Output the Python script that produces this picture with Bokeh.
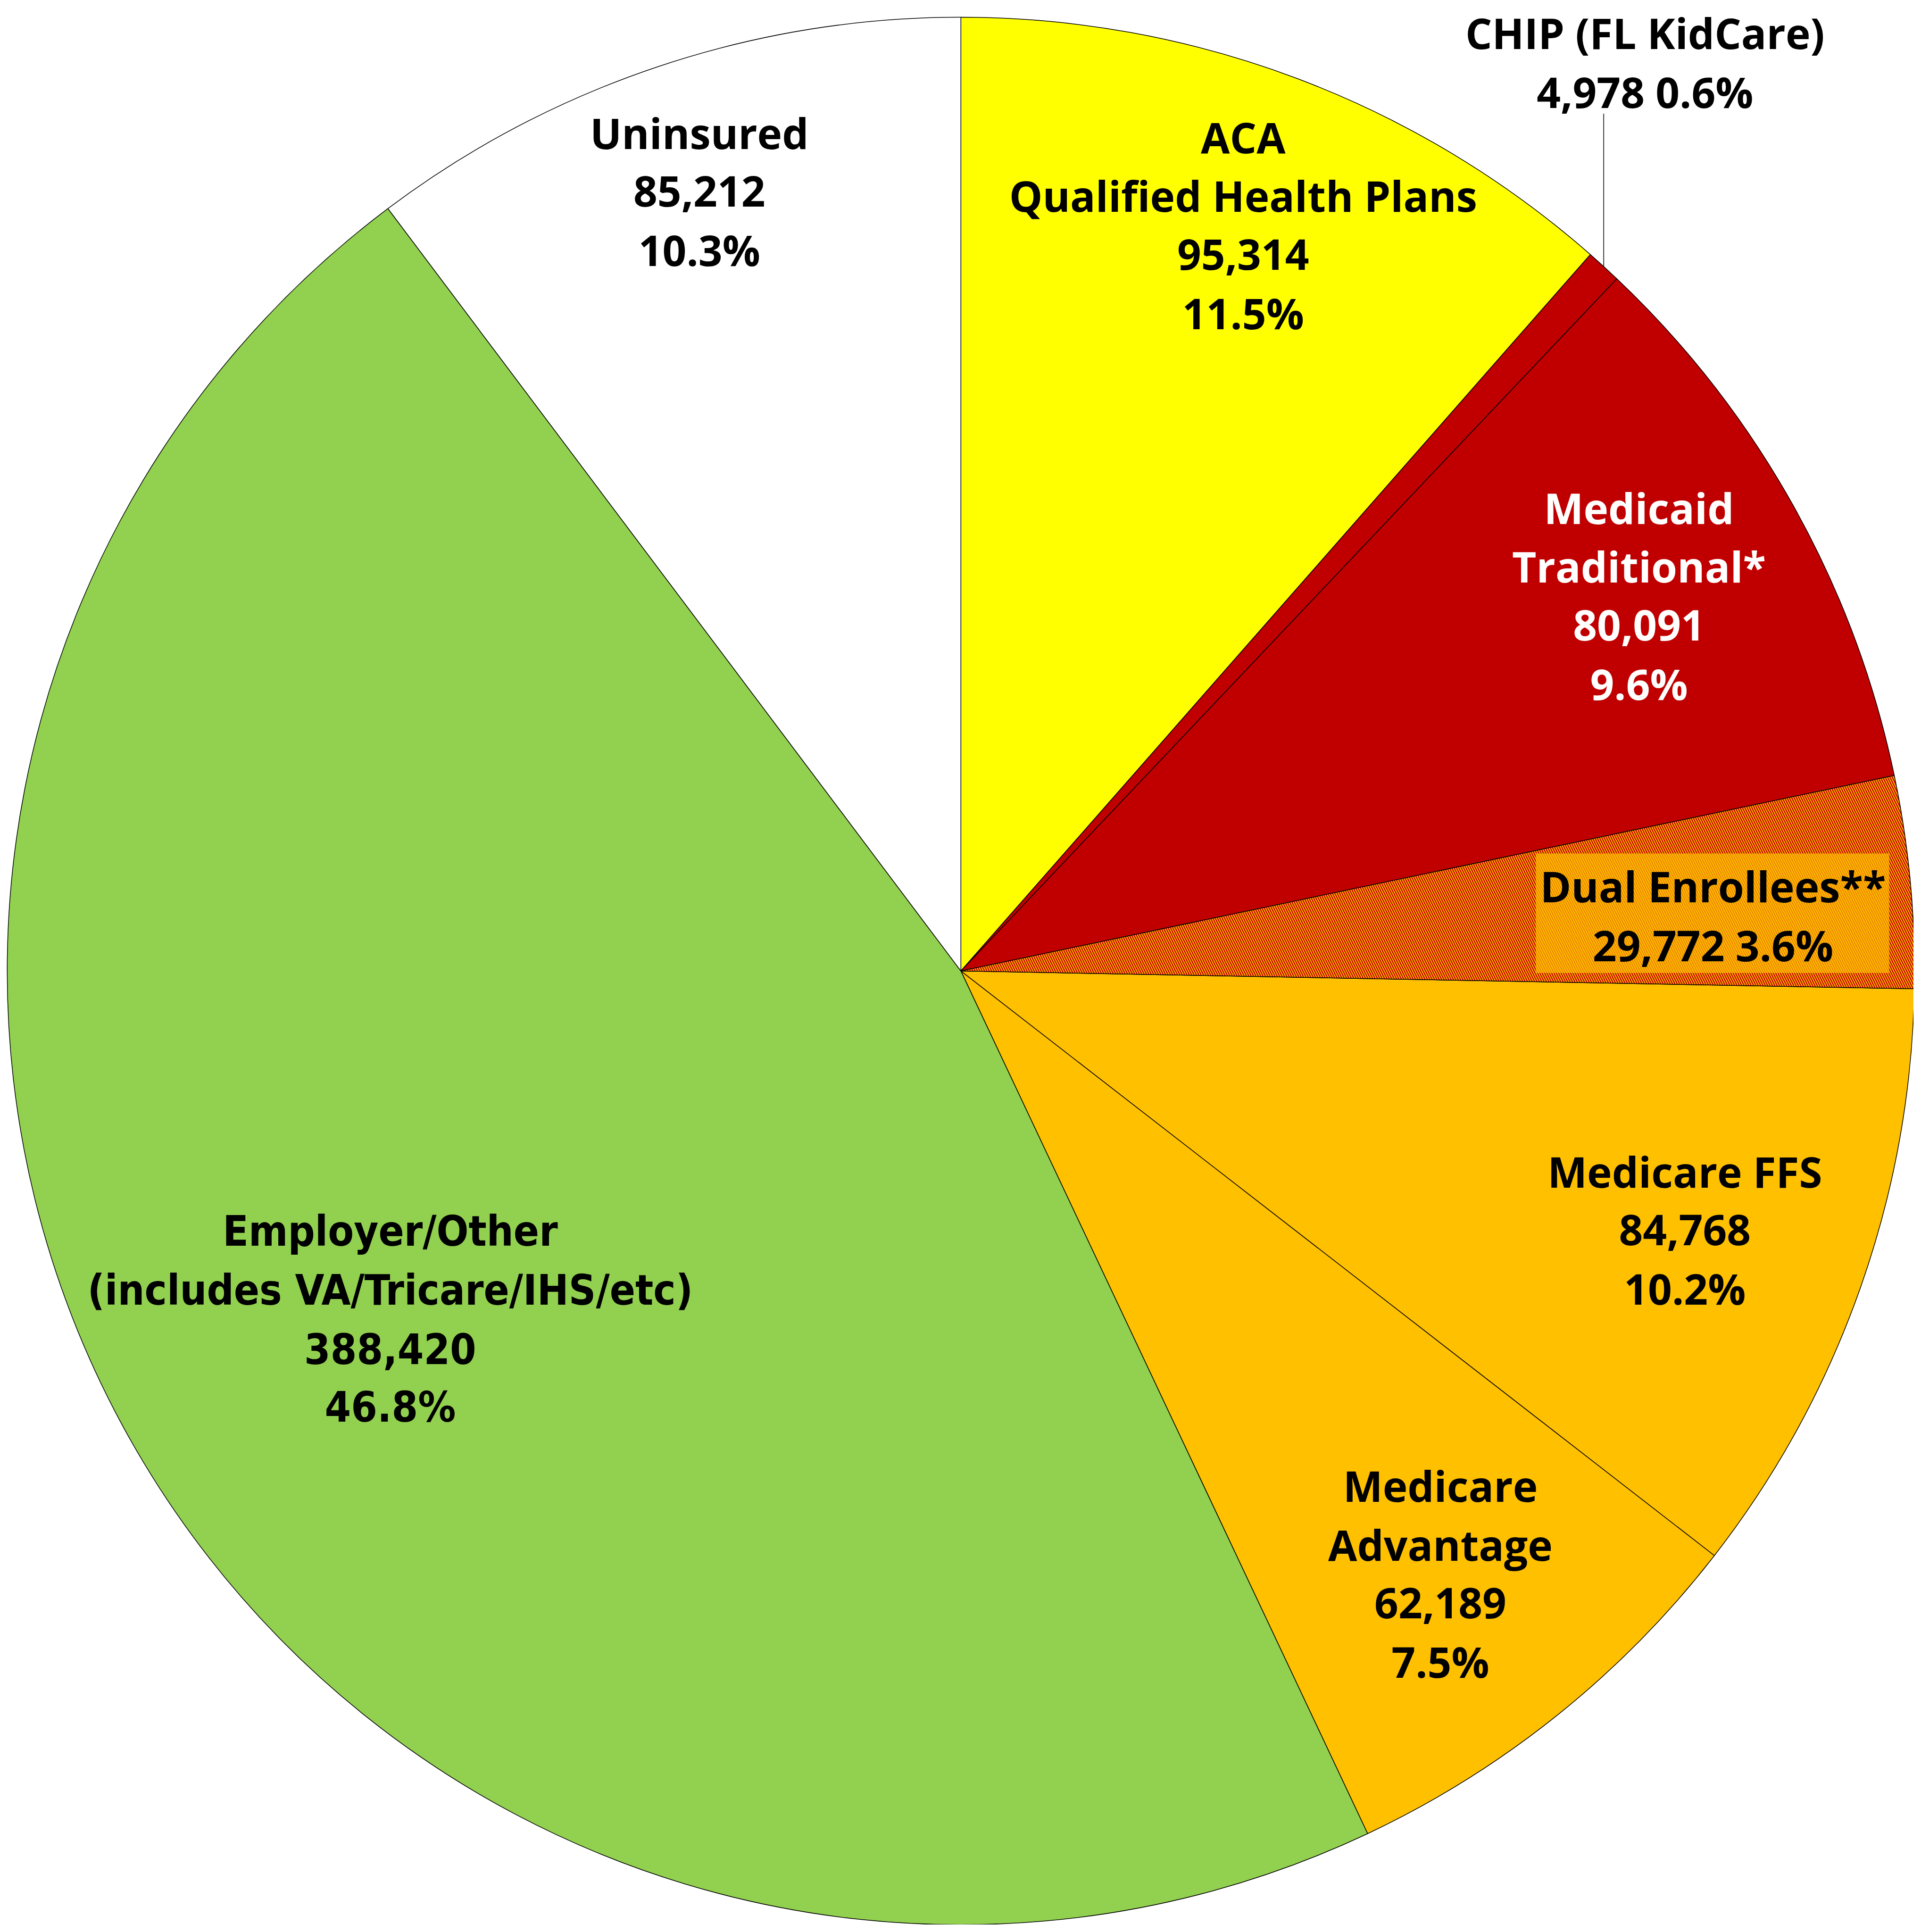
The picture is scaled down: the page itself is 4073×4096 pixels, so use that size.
import numpy as np
from bokeh.plotting import figure
from bokeh.models import ColumnDataSource
from bokeh.embed import file_html
from bokeh.resources import INLINE
from bokeh.core.properties import value

# ---------------- data ----------------
categories = ["ACA Qualified Health Plans", "CHIP (FL KidCare)", "Medicaid Traditional*",
              "Dual Enrollees**", "Medicare FFS", "Medicare Advantage",
              "Employer/Other", "Uninsured"]
label_names = ["ACA\nQualified Health Plans", "CHIP (FL KidCare)", "Medicaid\nTraditional*",
               "Dual Enrollees**", "Medicare FFS", "Medicare\nAdvantage",
               "Employer/Other\n(includes VA/Tricare/IHS/etc)", "Uninsured"]
enrollment = [95314, 4978, 80091, 29772, 84768, 62189, 388420, 85212]
percent_labels = ["11.5%", "0.6%", "9.6%", "3.6%", "10.2%", "7.5%", "46.8%", "10.3%"]

# ---------------- styles / layout ----------------
colors = ["#FFFF00", "#C00000", "#C00000", "#FFC000", "#FFC000", "#FFC000", "#92D050", "#FFFFFF"]
text_colors = ["black", "black", "white", "black", "black", "black", "black", "black"]
one_line_value = [False, True, False, True, False, False, False, False]
condensed = [False, False, False, False, False, False, True, False]
# label anchor (centre x, first baseline y) in reference pixels
label_pos = [(3723, 451), (4923, 140), (4905, 1558), (5126, 2688),
             (5042, 3539), (4312, 4478), (1176, 3718), (2099, 438)]
LINE_STEP = 175  # reference px
BASELINE_FIX = 22  # output px upward correction for renderer baseline

W, H = 4057, 4080
S = 0.710
def tx(X):
    return X * S - 8
def ty(Y):
    return H - (Y * S - 8)

CX, CY, R = tx(2880), ty(2910), 2022.0

p = figure(width=W, height=H, x_range=(0, W), y_range=(0, H),
           output_backend="svg", toolbar_location=None,
           x_axis_location=None, y_axis_location=None,
           min_border=0, tools="")
p.grid.visible = False
p.outline_line_color = None
p.background_fill_color = "white"
p.border_fill_color = "white"

vals = np.array(enrollment, dtype=float)
frac = vals / vals.sum()
cum = np.concatenate([[0.0], np.cumsum(frac)])
start = np.pi / 2 - cum[:-1] * 2 * np.pi
end = np.pi / 2 - cum[1:] * 2 * np.pi

plain = [i for i in range(len(vals)) if i != 3]
src = ColumnDataSource(dict(
    x=[CX] * len(plain), y=[CY] * len(plain),
    start=[start[i] for i in plain], end=[end[i] for i in plain],
    color=[colors[i] for i in plain]))
p.wedge(x="x", y="y", radius=R, start_angle="start", end_angle="end",
        direction="clock", fill_color="color", line_color="black",
        line_width=1.5, source=src)

# dual enrollees: hatched wedge
p.wedge(x=CX, y=CY, radius=R, start_angle=start[3], end_angle=end[3],
        direction="clock", fill_color=colors[3], line_color="black", line_width=1.5,
        hatch_pattern="\\", hatch_color="#C00000", hatch_scale=10, hatch_weight=2.4)

# semi-transparent label box on dual enrollees
p.quad(left=tx(4597), right=tx(5652), top=ty(2559), bottom=ty(2916),
       fill_color="#FFC000", fill_alpha=0.7, line_color=None)

# CHIP leader line from slice mid-angle on the rim up to the label
mid = (start[1] + end[1]) / 2
lx = CX + R * np.cos(mid)
ly = CY + R * np.sin(mid)
p.segment(x0=lx, y0=ly, x1=lx, y1=ty(350), line_color="black", line_width=1.5)

# labels
for i in range(len(vals)):
    lines = label_names[i].split("\n")
    vstr = f"{enrollment[i]:,}"
    if one_line_value[i]:
        lines.append(vstr + " " + percent_labels[i])
    else:
        lines += [vstr, percent_labels[i]]
    X0, Y0 = label_pos[i]
    xs = [tx(X0)] * len(lines)
    ys = [ty(Y0 + k * LINE_STEP) + BASELINE_FIX for k in range(len(lines))]
    font = "'DejaVu Sans Condensed', 'Liberation Sans Narrow', sans-serif" if condensed[i] else "'Open Sans'"
    p.text(x=xs, y=ys, text=lines, text_align="center", text_baseline="alphabetic",
           text_font=value(font), text_font_style="bold", text_font_size="89px",
           text_color=text_colors[i])

open("out.html", "w").write(file_html(p, INLINE))
